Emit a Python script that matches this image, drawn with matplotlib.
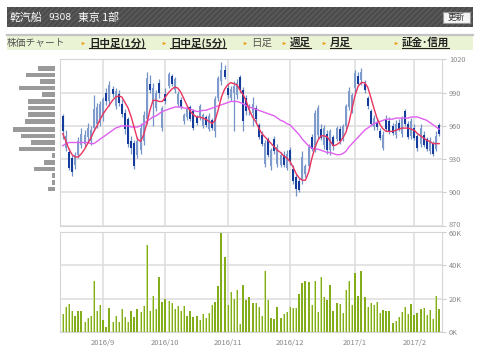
import matplotlib
matplotlib.use('Agg')
import matplotlib.pyplot as plt
from matplotlib.patches import Rectangle
from matplotlib.lines import Line2D
from matplotlib.transforms import ScaledTranslation
import numpy as np

plt.rcParams['font.family'] = ['Noto Sans CJK JP', 'DejaVu Sans']
plt.rcParams['hatch.linewidth'] = 1.2

# daily candles 2016/8/15 - 2017/2/13 (yen)
opens = [969, 940, 936, 931, 925, 934, 943, 944, 950, 946,
         958, 962, 963, 968, 990, 982, 993, 978, 989, 980,
         972, 966, 946, 945, 934, 938, 946, 966, 998, 980,
         976, 999, 958, 989, 996, 1005, 992, 980, 983, 964,
         968, 977, 973, 968, 968, 960, 968, 957, 965, 955,
         985, 1000, 1010, 994, 985, 990, 988, 1004, 992, 985,
         974, 972, 976, 961, 952, 926, 948, 924, 948, 926,
         925, 934, 922, 938, 921, 914, 910, 911, 917, 924,
         950, 940, 952, 957, 943, 953, 938, 950, 948, 957,
         949, 960, 977, 975, 994, 1005, 1001, 998, 985, 973,
         959, 963, 955, 940, 965, 964, 960, 952, 963, 953,
         973, 962, 951, 958, 951, 944, 952, 948, 937, 944,
         939, 961]
highs = [971, 956, 940, 934, 936, 950, 958, 956, 963, 960,
         988, 981, 982, 986, 994, 1000, 996, 994, 992, 984,
         975, 968, 951, 947, 950, 963, 973, 1009, 1006, 999,
         992, 1002, 978, 994, 1009, 1007, 1004, 991, 986, 972,
         977, 979, 975, 970, 980, 972, 970, 972, 967, 987,
         1005, 1018, 1015, 998, 996, 1000, 1002, 1006, 995, 988,
         980, 986, 979, 963, 955, 947, 950, 940, 951, 944,
         936, 937, 938, 941, 925, 917, 913, 937, 926, 944,
         953, 974, 979, 962, 961, 956, 957, 952, 960, 960,
         962, 980, 995, 990, 1010, 1009, 1012, 1001, 987, 975,
         970, 967, 958, 955, 970, 968, 963, 965, 966, 969,
         975, 964, 967, 962, 953, 962, 955, 950, 950, 946,
         955, 963]
lows = [948, 937, 920, 915, 921, 931, 940, 941, 946, 943,
        955, 958, 960, 964, 979, 978, 986, 975, 978, 968,
        953, 941, 935, 921, 931, 935, 943, 962, 990, 960,
        973, 985, 955, 980, 994, 996, 990, 977, 975, 962,
        965, 964, 956, 961, 965, 958, 959, 955, 956, 950,
        982, 997, 1002, 985, 982, 955, 984, 990, 955, 970,
        970, 960, 963, 948, 942, 923, 932, 920, 935, 923,
        923, 923, 920, 925, 908, 897, 900, 908, 914, 920,
        937, 936, 948, 947, 939, 935, 934, 938, 946, 944,
        946, 956, 974, 972, 990, 996, 997, 990, 975, 960,
        956, 956, 947, 938, 955, 953, 952, 949, 955, 950,
        960, 948, 948, 947, 937, 941, 941, 937, 935, 933,
        937, 951]
closes = [955, 951, 922, 918, 934, 946, 953, 952, 958, 956,
          975, 977, 980, 984, 982, 997, 989, 991, 981, 971,
          957, 944, 940, 924, 946, 958, 970, 1003, 992, 994,
          990, 990, 976, 982, 1007, 998, 1002, 989, 977, 970,
          975, 966, 958, 963, 978, 970, 961, 969, 958, 984,
          1003, 1010, 1004, 988, 993, 996, 999, 992, 964, 973,
          978, 980, 966, 950, 944, 945, 934, 938, 937, 941,
          934, 925, 935, 928, 910, 903, 902, 932, 924, 941,
          939, 972, 976, 949, 958, 938, 955, 942, 958, 946,
          960, 978, 991, 988, 1008, 998, 1009, 992, 978, 962,
          967, 959, 949, 952, 957, 955, 954, 962, 957, 967,
          962, 950, 964, 949, 940, 958, 943, 939, 946, 935,
          951, 953]

# moving averages as shown
ma_short = [953, 946, 939, 934, 932, 932, 935, 939, 944, 949,
            955, 960, 966, 971, 975, 979, 983, 986, 987, 986,
            981, 976, 968, 958, 948, 946, 952, 962, 974, 983,
            983, 982, 982, 986, 990, 993, 995, 994, 990, 984,
            978, 973, 970, 968, 968, 967, 966, 964, 962, 965,
            975, 986, 993, 997, 999, 998, 997, 992, 988, 982,
            974, 968, 964, 958, 953, 950, 947, 944, 941, 938,
            936, 933, 931, 928, 923, 917, 913, 911, 911, 918,
            930, 940, 947, 951, 951, 950, 946, 942, 943, 945,
            949, 954, 963, 976, 988, 996, 999, 999, 995, 986,
            976, 967, 961, 957, 955, 955, 955, 956, 957, 958,
            958, 958, 957, 956, 953, 951, 949, 947, 946, 944,
            944, 944]
ma_long = [942, 944, 945, 945, 945, 945, 945, 945, 945, 944,
           944, 946, 948, 950, 952, 954, 956, 958, 959, 960,
           960, 960, 959, 959, 959, 960, 962, 964, 966, 968,
           969, 971, 973, 974, 975, 976, 977, 977, 977, 976,
           976, 975, 974, 973, 973, 974, 974, 975, 976, 977,
           978, 979, 980, 981, 982, 982, 982, 981, 980, 978,
           977, 976, 975, 974, 973, 972, 971, 970, 969, 967,
           965, 964, 962, 961, 958, 955, 952, 948, 945, 942,
           940, 939, 939, 938, 937, 936, 936, 935, 934, 934,
           935, 937, 941, 944, 947, 950, 953, 956, 958, 960,
           962, 963, 964, 965, 966, 966, 966, 967, 967, 967,
           967, 967, 968, 968, 968, 967, 966, 965, 963, 961,
           959, 957]

# volume (thousand shares)
volume = [10.8, 14.8, 16.8, 12.8, 9.4, 12.8, 12.8, 6, 8.4, 9.4,
          30.4, 12.8, 16.4, 7.2, 3.2, 14.4, 6, 9.8, 6, 14,
          9, 5.8, 12.4, 9, 14, 12, 15.6, 52, 12.8, 21.4,
          14, 33, 17.8, 20, 18.8, 17.2, 13.8, 15.6, 12.8, 15.6,
          9.4, 12.4, 8.8, 9.4, 7.4, 11, 8.4, 11.4, 16, 18,
          27.4, 59.6, 45, 16, 24, 20, 25.2, 4.8, 28, 19.4,
          21, 17.2, 17.2, 14.8, 9.4, 36.4, 19.4, 8.4, 7.8, 14.8,
          8.4, 10.8, 11.8, 15.2, 14.4, 14.2, 22.8, 29.2, 30.4, 30,
          16, 30.4, 12, 33, 20.8, 19.4, 28.4, 12.8, 17.2, 16.8,
          11.4, 25.2, 30.4, 16.4, 35.2, 21.4, 36.4, 20.8, 14.8, 17.2,
          16.4, 18, 11.4, 13.2, 12.8, 12.8, 5.4, 6.4, 8.8, 11.8,
          15.2, 10.8, 16.8, 10, 11.4, 13.8, 14.4, 10, 13.2, 7.8,
          21.4, 14]

month_pos = [13, 33, 53, 73, 94, 113]
month_labels = ['2016/9', '2016/10', '2016/11', '2016/12', '2017/1', '2017/2']

# volume by price (left histogram)
vp_price = [1012, 1006, 1000, 994, 988, 982, 976, 970, 964, 957,
            951, 945, 939, 933, 927, 921, 915, 909, 903]
vp_amount = [17, 29, 15, 36, 13, 27, 27, 27, 30, 42,
             34, 24, 36, 3, 11, 21, 3, 3, 7]

W, H = 480, 361
fig = plt.figure(figsize=(4.8, 3.61), dpi=100)
fig.patch.set_facecolor('white')


def fx(px):
    return px / W


def fy(py):
    return 1 - py / H


def nudge(txt, dy_px):
    # shift a text vertically by some pixels
    txt.set_transform(txt.get_transform() + ScaledTranslation(0, dy_px / 100, fig.dpi_scale_trans))


# header bar
fig.patches.append(Rectangle((fx(7), fy(27)), fx(466), 20 / H, transform=fig.transFigure,
                             facecolor='#4b4b4b', edgecolor='#5a5a5a', hatch='//////', lw=0))
fig.text(fx(9), fy(17.5), '乾汽船', color='white', fontsize=7.8, va='center')
fig.text(fx(48), fy(17.5), '9308', color='white', fontsize=6.6, va='center', family='DejaVu Sans')
fig.text(fx(78), fy(17.5), '東京 1部', color='white', fontsize=7.8, va='center')
fig.patches.append(Rectangle((fx(443), fy(22.7)), fx(27), 11 / H, transform=fig.transFigure,
                             facecolor='#f6f6f6', edgecolor='#999999', lw=0.8))
fig.text(fx(456.5), fy(17.3), '更新', color='#333333', fontsize=6.2, ha='center', va='center')

# menu bar
fig.patches.append(Rectangle((fx(7), fy(50)), fx(466), 15 / H, transform=fig.transFigure,
                             facecolor='#ebf3d5', edgecolor='none'))
fig.add_artist(Line2D([fx(7), fx(473)], [fy(34.5), fy(34.5)], color='#c4c4c4', lw=1.6))
fig.text(fx(7), fy(43), '株価チャート', color='#555555', fontsize=7, va='center')

nav_items = ['日中足(1分)', '日中足(5分)', '日足', '週足', '月足', '証金･信用']
nav_x = [89, 170, 251, 290, 330, 402]
nav_link = [True, True, False, True, True, True]

renderer = fig.canvas.get_renderer()
for label, x0, link in zip(nav_items, nav_x, nav_link):
    fig.add_artist(Line2D([fx(x0 - 6.5)], [fy(43)], marker='>', ms=2.6, color='#f0a020',
                          mec='none', transform=fig.transFigure))
    if link:
        t = fig.text(fx(x0), fy(43), label, color='#222222', fontsize=7.6, va='center',
                     fontweight='bold')
        bb = t.get_window_extent(renderer)
        fig.add_artist(Line2D([bb.x0 / W, bb.x1 / W], [fy(48), fy(48)], color='#222222', lw=0.8))
    else:
        fig.text(fx(x0), fy(43), label, color='#555555', fontsize=7.6, va='center')

grid_c = '#dddddd'
tick_c = '#888888'

# price chart
x = np.arange(len(closes))
o = np.array(opens)
c = np.array(closes)
up = c >= o
ax = fig.add_axes([fx(60), fy(225.7), fx(382), 166.4 / H])
ax.vlines(x, lows, highs, color='#7392c8', lw=0.9, zorder=2)
body_col = np.where(up, '#7e9bcc', '#153c9c')
ax.bar(x, np.maximum(np.abs(c - o), 0.8), bottom=np.minimum(o, c), width=0.62,
       color=body_col, zorder=3)
ax.plot(x, ma_long, color='#e060f0', lw=1, zorder=4)
ax.plot(x, ma_short, color='#e8345e', lw=1, zorder=5)
ax.set_xlim(-0.9, len(closes) - 0.1)
ax.set_ylim(870, 1020)
ax.set_yticks(range(870, 1021, 30))
ax.set_xticks(month_pos)
ax.yaxis.tick_right()
ax.tick_params(axis='x', length=0, labelbottom=False)
ax.tick_params(axis='y', length=3, color='#cccccc', labelsize=5.3, labelcolor=tick_c, pad=2)
ax.grid(color=grid_c, lw=1.1, zorder=0)
ax.set_axisbelow(True)
for s in ax.spines.values():
    s.set_color('#d6d6d6')

# volume by price
axv = fig.add_axes([fx(8), fy(225.7), fx(47), 166.4 / H])
axv.barh(vp_price, vp_amount, height=4.2, color='#9a9a9a')
axv.set_xlim(47, 0)
axv.set_ylim(870, 1020)
axv.axis('off')

# volume chart
ax2 = fig.add_axes([fx(60), fy(332), fx(382), 100 / H])
ax2.bar(x, volume, width=0.62, color='#84ad1c', zorder=3)
ax2.bar(x - 0.12, volume, width=0.2, color='#c9df92', zorder=3)
ax2.set_xlim(-0.9, len(closes) - 0.1)
ax2.set_ylim(0, 60)
ax2.set_yticks([0, 20, 40, 60])
ax2.set_yticklabels(['0K', '20K', '40K', '60K'])
ax2.set_xticks(month_pos)
ax2.set_xticklabels(month_labels)
ax2.yaxis.tick_right()
ax2.tick_params(axis='x', length=0, labelsize=5.5, labelcolor=tick_c, pad=5)
ax2.tick_params(axis='y', length=3, color='#cccccc', labelsize=5.3, labelcolor=tick_c, pad=2)
ax2.grid(color=grid_c, lw=1.1, zorder=0)
ax2.set_axisbelow(True)
for s in ax2.spines.values():
    s.set_color('#d6d6d6')

# keep "870" and "60K" apart
nudge(ax.get_yticklabels()[0], 1.5)
nudge(ax2.get_yticklabels()[-1], -1.2)

fig.savefig('out.png', dpi=100)
